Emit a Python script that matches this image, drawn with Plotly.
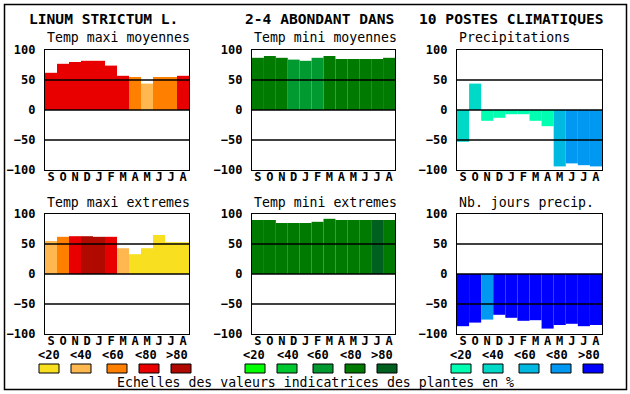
import plotly.graph_objects as go

# ---------------- data ----------------
months = ["S", "O", "N", "D", "J", "F", "M", "A", "M", "J", "J", "A"]
class_labels = ["<20", "<40", "<60", "<80", ">80"]

pal_tmax = ["#F8E020", "#FFB850", "#FF8000", "#E80000", "#B00A00"]
pal_tmin = ["#00FF00", "#00C830", "#009A30", "#007A00", "#006020"]
pal_prec = ["#00FFB0", "#00D8C8", "#00B8E0", "#0098F0", "#0000FF"]

tmax_moy = [62, 77, 80, 82, 82, 74, 57, 55, 44, 55, 55, 57]
tmax_moy_cls = [3, 3, 3, 3, 3, 3, 3, 2, 1, 2, 2, 3]

tmin_moy = [87, 90, 87, 84, 82, 87, 90, 85, 85, 85, 85, 87]
tmin_moy_cls = [3, 3, 3, 2, 2, 2, 3, 3, 3, 3, 3, 3]

precip = [-53, 44, -18, -13, -7, -7, -18, -27, -94, -89, -92, -94]
precip_cls = [1, 1, 0, 0, 0, 0, 0, 0, 2, 3, 3, 3]

tmax_ext = [55, 62, 63, 63, 62, 62, 43, 33, 43, 65, 53, 53]
tmax_ext_cls = [1, 2, 3, 4, 4, 3, 1, 0, 0, 0, 0, 0]

tmin_ext = [90, 90, 85, 85, 85, 87, 92, 90, 90, 90, 90, 90]
tmin_ext_cls = [3, 3, 3, 3, 3, 3, 3, 3, 3, 3, 4, 3]

nb_jours = [-87, -81, -76, -68, -73, -78, -77, -91, -85, -83, -87, -85]
nb_jours_cls = [4, 4, 3, 4, 4, 4, 4, 4, 4, 4, 4, 4]

yticks = [100, 50, 0, -50, -100]
grid_vals = [50, 0, -50]

titles = ["Temp maxi moyennes", "Temp mini moyennes", "Precipitations",
          "Temp maxi extremes", "Temp mini extremes", "Nb. jours precip."]
head = ["LINUM STRICTUM L.", "2-4 ABONDANT DANS", "10 POSTES CLIMATIQUES"]
footer = "Echelles des valeurs indicatrices des plantes en %"

# ---------------- layout geometry (pixels) ----------------
W, H = 630, 394
cols_px = [(45, 189), (252, 395), (457, 602)]
rows_px = [(50, 170), (214, 334)]
FONT = "DejaVu Sans Mono"


def px_x(v):
    return v / W


def px_y(v):
    return 1 - v / H


panels = [
    (tmax_moy, tmax_moy_cls, pal_tmax),
    (tmin_moy, tmin_moy_cls, pal_tmin),
    (precip, precip_cls, pal_prec),
    (tmax_ext, tmax_ext_cls, pal_tmax),
    (tmin_ext, tmin_ext_cls, pal_tmin),
    (nb_jours, nb_jours_cls, pal_prec),
]

fig = go.Figure()
layout = dict(
    width=W, height=H, autosize=False,
    margin=dict(l=0, r=0, t=0, b=0, pad=0, autoexpand=False),
    paper_bgcolor="white", plot_bgcolor="white", showlegend=False,
    font=dict(family=FONT, color="black"),
)
shapes = []
annotations = []

xpos = list(range(len(months)))

for i, (vals, cls, pal) in enumerate(panels):
    r, c = divmod(i, 3)
    n = i + 1
    xa = "x" if n == 1 else f"x{n}"
    ya = "y" if n == 1 else f"y{n}"
    fig.add_trace(go.Bar(
        x=xpos, y=vals, width=1,
        marker=dict(color=[pal[k] for k in cls], line=dict(width=0)),
        xaxis=xa, yaxis=ya, hoverinfo="skip",
    ))
    x0, x1 = cols_px[c]
    y0, y1 = rows_px[r]
    layout["xaxis" if n == 1 else f"xaxis{n}"] = dict(
        domain=[px_x(x0), px_x(x1)], range=[-0.5, len(months) - 0.5],
        tickmode="array", tickvals=xpos, ticktext=months,
        tickfont=dict(family=FONT, size=12, weight="bold"),
        showgrid=False, zeroline=False, ticks="", ticklen=0, ticklabelstandoff=-5,
        showline=True, linecolor="black", linewidth=1.3, mirror=True,
        anchor=ya, fixedrange=True, automargin=False,
    )
    layout["yaxis" if n == 1 else f"yaxis{n}"] = dict(
        domain=[px_y(y1), px_y(y0)], range=[-100, 100],
        tickmode="array", tickvals=yticks,
        tickfont=dict(family=FONT, size=12, weight="bold"),
        showgrid=False, zeroline=False, ticks="", ticklen=0, ticklabelstandoff=6,
        showline=True, linecolor="black", linewidth=1.3, mirror=True,
        anchor=xa, fixedrange=True, automargin=False,
    )
    for g in grid_vals:
        shapes.append(dict(type="line", xref=f"{xa} domain", yref=ya,
                           x0=0, x1=1, y0=g, y1=g, layer="above",
                           line=dict(color="black", width=1.3)))
    annotations.append(dict(
        text=titles[i], xref="paper", yref="paper",
        x=px_x(x0), y=px_y(y0 - 12), xanchor="left", yanchor="middle",
        showarrow=False, font=dict(family=FONT, size=13.2, color="black"),
    ))

# header
head_x = [27, 243, 417]
for t, hx in zip(head, head_x):
    annotations.append(dict(
        text=t, xref="paper", yref="paper", x=px_x(hx), y=px_y(18),
        xanchor="left", yanchor="middle", showarrow=False,
        font=dict(family=FONT, size=14.6, weight="bold", color="black"),
    ))

# colour scale legends
box_left = [[39, 71, 107, 139, 171], [245, 277, 313, 345, 377], [451, 483, 519, 551, 583]]
lab_center = [[49, 81, 113, 146, 177], [254, 288, 318, 351, 382], [461, 493, 525, 557, 589]]
pals = [pal_tmax, pal_tmin, pal_prec]
for c in range(3):
    for k, lab in enumerate(class_labels):
        bx = box_left[c][k]
        shapes.append(dict(type="rect", xref="paper", yref="paper",
                           x0=px_x(bx), x1=px_x(bx + 20), y0=px_y(373), y1=px_y(364),
                           fillcolor=pals[c][k], line=dict(color="black", width=1)))
        annotations.append(dict(
            text=lab, xref="paper", yref="paper", x=px_x(lab_center[c][k]), y=px_y(355),
            xanchor="center", yanchor="middle", showarrow=False,
            font=dict(family=FONT, size=12, weight="bold", color="black"),
        ))

annotations.append(dict(
    text=footer, xref="paper", yref="paper", x=px_x(315), y=px_y(382),
    xanchor="center", yanchor="middle", showarrow=False,
    font=dict(family=FONT, size=13.2, color="black"),
))

# outer frame
shapes.append(dict(type="rect", xref="paper", yref="paper",
                   x0=px_x(4.5), x1=px_x(626.5), y0=px_y(389.5), y1=px_y(4.5),
                   line=dict(color="black", width=1.5), fillcolor="rgba(0,0,0,0)"))

layout["shapes"] = shapes
layout["annotations"] = annotations
fig.update_layout(**layout)
fig.write_html(
    "out.html",
    config={"displayModeBar": False},
    post_script="document.body.style.margin='0';document.body.style.overflow='hidden';",
)
